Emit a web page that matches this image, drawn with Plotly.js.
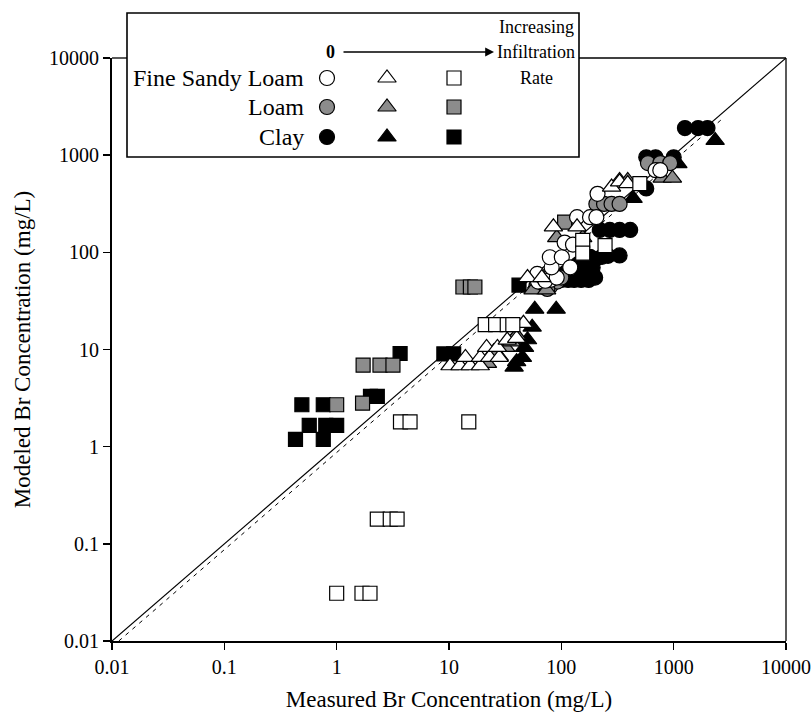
<!DOCTYPE html>
<html>
<head>
<meta charset="utf-8">
<script src="https://cdn.plot.ly/plotly-3.0.1.min.js"></script>
<style>html,body{margin:0;padding:0;background:#fff;}#chart{width:811px;height:712px;}</style>
</head>
<body>
<div id="chart"></div>
<script>
// ---- Data (Measured vs Modeled Br concentration, mg/L) ----
// Fine Sandy Loam
const fslCircleX = [62, 68, 74, 80, 61, 72, 91, 82, 79, 101, 120, 107, 127, 138, 180, 205, 210, 690, 760];
const fslCircleY = [50, 56, 60, 52, 60, 51, 55, 70, 89, 89, 70, 126, 120, 230, 230, 230, 400, 700, 700];
const fslTriX = [10.2, 12.5, 15.4, 19, 14, 19, 23, 28, 21.6, 27, 33, 40, 46, 50, 67, 85, 138, 280, 330, 390];
const fslTriY = [6.8, 6.8, 6.8, 6.8, 8.3, 8.3, 8.3, 8.3, 10.5, 10.5, 12.5, 13, 18.6, 55, 55, 183, 183, 470, 530, 510];
const fslSqX = [1.0, 1.68, 1.98, 2.3, 3.0, 3.45, 3.7, 4.5, 15, 21, 26, 33, 37, 155, 245, 155, 500];
const fslSqY = [0.031, 0.031, 0.031, 0.18, 0.18, 0.18, 1.8, 1.8, 1.8, 18, 18, 18, 18, 133, 117, 98, 510];
// Loam
const loamCircleX = [60, 70, 80, 92, 100, 75, 205, 240, 280, 330, 590, 760, 930];
const loamCircleY = [45, 48, 45, 50, 55, 42, 315, 315, 315, 315, 830, 830, 830];
const loamTriX = [22, 28, 32, 36, 25, 40, 56, 74, 91, 155, 330, 390, 790, 975];
const loamTriY = [7.2, 8.5, 10.5, 12, 9.5, 14, 41, 41, 142, 142, 550, 550, 580, 580];
const loamSqX = [1.0, 1.7, 1.72, 2.43, 3.17, 13.3, 15.5, 17, 107];
const loamSqY = [2.7, 2.8, 6.9, 6.9, 6.9, 44, 44, 44, 205];
// Clay
const clayCircleX = [100, 115, 130, 150, 175, 200, 110, 125, 140, 160, 180, 200, 230, 260, 330, 120, 145, 170, 190, 220, 270, 330, 410, 570, 570, 690, 1000, 1260, 1650, 2000];
const clayCircleY = [52, 52, 52, 52, 52, 55, 62, 68, 75, 82, 90, 85, 90, 92, 93, 58, 60, 65, 70, 170, 170, 170, 170, 455, 950, 950, 950, 1900, 1900, 1900];
const clayTriX = [50, 45, 38, 55, 47, 40, 58, 90, 435, 1090, 2340];
const clayTriY = [12.6, 8.3, 6.6, 17, 10.5, 7.5, 26, 26, 360, 820, 1420];
const claySqX = [0.43, 0.76, 0.57, 0.80, 1.0, 0.49, 0.76, 2.0, 2.3, 3.67, 9.0, 11, 42];
const claySqY = [1.19, 1.19, 1.66, 1.66, 1.66, 2.7, 2.7, 3.3, 3.3, 9.1, 9.0, 9.0, 46];
// Reference lines
const oneToOneX = [0.01, 10000];
const oneToOneY = [0.01, 10000];
const fitX = [0.01, 2750];
const fitY = [0.0087, 2400];
// Axis ticks
const tickVals = [0.01, 0.1, 1, 10, 100, 1000, 10000];
const tickText = ['0.01', '0.1', '1', '10', '100', '1000', '10000'];
// Legend labels
const soilNames = ['Fine Sandy Loam', 'Loam', 'Clay'];
const soilColors = ['#ffffff', '#8c8c8c', '#000000'];
const rateSymbols = ['circle', 'triangle-up', 'square'];
const rateLabel = ['Increasing', 'Infiltration', 'Rate'];

// ---- Layout helpers (plot area 112..786 x, 58..641 y in px) ----
const L = 112, R = 786, T = 58, B = 641;
const xp = px => (px - L) / (R - L);
const yp = py => (B - py) / (B - T);
const FONT = '"Liberation Serif", "Times New Roman", serif';

function mk(x, y, sym, col, size) {
  return {
    x: x, y: y, type: 'scatter', mode: 'markers', showlegend: false, hoverinfo: 'skip',
    marker: {symbol: sym, color: col, size: size, line: {color: '#000', width: 1.2}}
  };
}
const sizes = {'circle': 15, 'triangle-up': 16, 'square': 14};

const traces = [
  {x: oneToOneX, y: oneToOneY, type: 'scatter', mode: 'lines', showlegend: false,
   line: {color: '#000', width: 1.2}},
  {x: fitX, y: fitY, type: 'scatter', mode: 'lines', showlegend: false,
   line: {color: '#000', width: 1, dash: '4px,5px'}},
  mk(clayCircleX, clayCircleY, 'circle', soilColors[2], sizes['circle']),
  mk(clayTriX, clayTriY, 'triangle-up', soilColors[2], sizes['triangle-up']),
  mk(claySqX, claySqY, 'square', soilColors[2], sizes['square']),
  mk(loamCircleX, loamCircleY, 'circle', soilColors[1], sizes['circle']),
  mk(loamTriX, loamTriY, 'triangle-up', soilColors[1], sizes['triangle-up']),
  mk(loamSqX, loamSqY, 'square', soilColors[1], sizes['square']),
  mk(fslCircleX, fslCircleY, 'circle', soilColors[0], sizes['circle']),
  mk(fslTriX, fslTriY, 'triangle-up', soilColors[0], sizes['triangle-up']),
  mk(fslSqX, fslSqY, 'square', soilColors[0], sizes['square'])
];

// Legend symbols (custom grid legend)
const colPx = [327, 387, 454];
const rowPx = [78, 107, 137];
for (let r = 0; r < 3; r++) {
  for (let c = 0; c < 3; c++) {
    const t = mk([xp(colPx[c])], [yp(rowPx[r])], rateSymbols[c], soilColors[r], sizes[rateSymbols[c]]);
    t.xaxis = 'x2'; t.yaxis = 'y2'; t.cliponaxis = false;
    traces.push(t);
  }
}

const annotations = [];
soilNames.forEach((n, i) => annotations.push({
  xref: 'paper', yref: 'paper', x: xp(306), y: yp(rowPx[i]), xanchor: 'right', yanchor: 'middle',
  text: n, showarrow: false, font: {family: FONT, size: 24, color: '#000'}
}));
annotations.push({xref: 'paper', yref: 'paper', x: xp(330), y: yp(52), xanchor: 'center', yanchor: 'middle',
  text: '<b>0</b>', showarrow: false, font: {family: FONT, size: 18, color: '#000'}});
annotations.push({xref: 'paper', yref: 'paper', x: xp(494), y: yp(52), axref: 'paper', ayref: 'paper',
  ax: xp(342), ay: yp(52), text: '', showarrow: true, arrowhead: 2, arrowsize: 1.1, arrowwidth: 1.6, arrowcolor: '#000'});
const rateRows = [27, 52, 78];
rateLabel.forEach((s, i) => annotations.push({
  xref: 'paper', yref: 'paper', x: xp(536), y: yp(rateRows[i]), xanchor: 'center', yanchor: 'middle',
  text: s, showarrow: false, font: {family: FONT, size: 18, color: '#000'}
}));

const shapes = [
  {type: 'line', xref: 'paper', yref: 'paper', x0: 1, x1: 1, y0: 0, y1: 1, line: {color: '#000', width: 1.3}},
  {type: 'line', xref: 'paper', yref: 'paper', x0: 0, x1: xp(127), y0: 1, y1: 1, line: {color: '#000', width: 1.3}},
  {type: 'line', xref: 'paper', yref: 'paper', x0: xp(579), x1: 1, y0: 1, y1: 1, line: {color: '#000', width: 1.3}},
  {type: 'rect', xref: 'paper', yref: 'paper', x0: xp(127), x1: xp(579), y0: yp(157), y1: yp(13),
   line: {color: '#000', width: 1.6}, fillcolor: 'rgba(0,0,0,0)', layer: 'below'}
];

const axFont = {family: FONT, size: 20, color: '#000'};
const layout = {
  width: 811, height: 712,
  margin: {l: L, r: 811 - R, t: T, b: 712 - B},
  paper_bgcolor: '#fff', plot_bgcolor: '#fff',
  showlegend: false,
  xaxis: {
    type: 'log', range: [-2, 4], tickvals: tickVals, ticktext: tickText,
    showgrid: false, zeroline: false, showline: true, linecolor: '#000', linewidth: 2,
    ticks: 'outside', ticklen: 7, tickwidth: 1.5, tickcolor: '#000', tickfont: axFont,
    title: {text: 'Measured Br Concentration (mg/L)', font: {family: FONT, size: 23, color: '#000'}, standoff: 14},
    automargin: false
  },
  yaxis: {
    type: 'log', range: [-2, 4], tickvals: tickVals, ticktext: tickText,
    showgrid: false, zeroline: false, showline: true, linecolor: '#000', linewidth: 2,
    ticks: 'outside', ticklen: 7, tickwidth: 1.5, tickcolor: '#000', tickfont: axFont,
    title: {text: 'Modeled Br Concentration (mg/L)', font: {family: FONT, size: 23, color: '#000'}, standoff: 12},
    automargin: false
  },
  xaxis2: {domain: [0, 1], range: [0, 1], visible: false, overlaying: 'x', fixedrange: true},
  yaxis2: {domain: [0, 1], range: [0, 1], visible: false, overlaying: 'y', fixedrange: true},
  annotations: annotations,
  shapes: shapes
};

Plotly.newPlot('chart', traces, layout, {displayModeBar: false, staticPlot: true});
</script>
</body>
</html>
